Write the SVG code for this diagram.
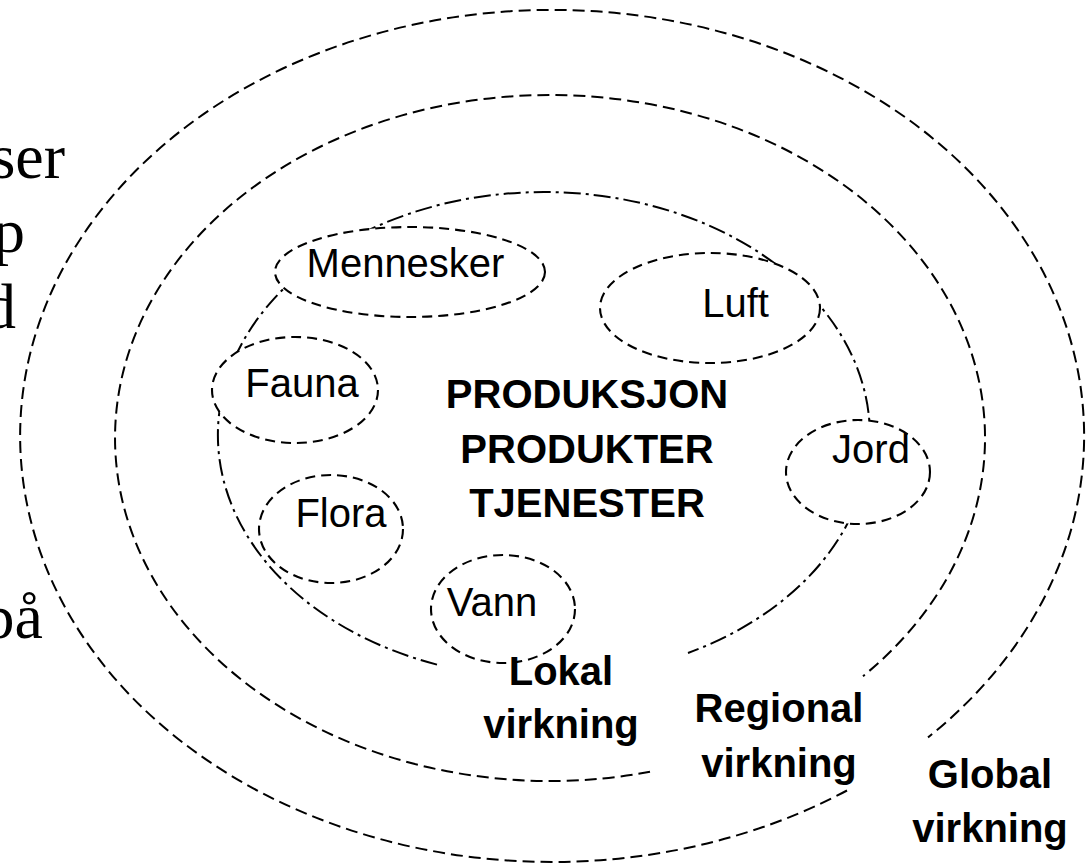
<svg xmlns="http://www.w3.org/2000/svg" width="1088" height="866" viewBox="0 0 1088 866">
<defs>
<style>
.zone{fill:none;stroke:#000;stroke-width:2;stroke-dasharray:12 6}
.inner{fill:none;stroke:#000;stroke-width:2;stroke-dasharray:17 5 3 5}
.bub{fill:#fff;stroke:#000;stroke-width:2.1;stroke-dasharray:10 6}
.lbl{font-family:"Liberation Sans",Arial,sans-serif;font-size:40px;fill:#000;text-anchor:middle}
.bold{font-family:"Liberation Sans",Arial,sans-serif;font-size:40px;font-weight:bold;fill:#000;text-anchor:middle}
.side{font-family:"Liberation Serif","Times New Roman",serif;font-size:64px;fill:#000;text-anchor:end}
</style>
</defs>
<rect width="1088" height="866" fill="#fff"/>
<g id="side-text">
<text class="side" x="65" y="178">ser</text>
<text class="side" x="25" y="252">p</text>
<text class="side" x="16" y="328">d</text>
<text class="side" x="43" y="638">på</text>
</g>
<g id="connectors">
<path id="global-zone" class="zone" d="M 847 790.5 A 532 426 0 1 1 928 737.4"/>
<path id="regional-zone" class="zone" d="M 650 771.8 A 435 343 0 1 1 863 676.2"/>
<path id="local-zone" class="inner" d="M 437 664.6 A 326 243 0 1 1 688 653"/>
</g>
<g id="node-mennesker"><ellipse class="bub" cx="410" cy="272" rx="135" ry="45"/><text class="lbl" x="405.5" y="277">Mennesker</text></g>
<g id="node-luft"><ellipse class="bub" cx="710" cy="308" rx="110" ry="55"/><text class="lbl" x="735.5" y="317">Luft</text></g>
<g id="node-fauna"><ellipse class="bub" cx="295" cy="390" rx="83" ry="53"/><text class="lbl" x="302" y="397">Fauna</text></g>
<g id="node-flora"><ellipse class="bub" cx="331" cy="529" rx="72" ry="54"/><text class="lbl" x="341" y="527">Flora</text></g>
<g id="node-vann"><ellipse class="bub" cx="503" cy="609" rx="72" ry="54"/><text class="lbl" x="492" y="616">Vann</text></g>
<g id="node-jord"><ellipse class="bub" cx="858" cy="472" rx="72" ry="52"/><text class="lbl" x="871" y="463">Jord</text></g>
<g id="node-center">
<text class="bold" x="587" y="408">PRODUKSJON</text>
<text class="bold" x="587" y="463">PRODUKTER</text>
<text class="bold" x="587" y="517">TJENESTER</text>
</g>
<g id="label-lokal"><text class="bold" x="561" y="685">Lokal</text><text class="bold" x="561" y="738">virkning</text></g>
<g id="label-regional"><text class="bold" x="779" y="722">Regional</text><text class="bold" x="779" y="777">virkning</text></g>
<g id="label-global"><text class="bold" x="990" y="788">Global</text><text class="bold" x="990" y="842">virkning</text></g>
</svg>
